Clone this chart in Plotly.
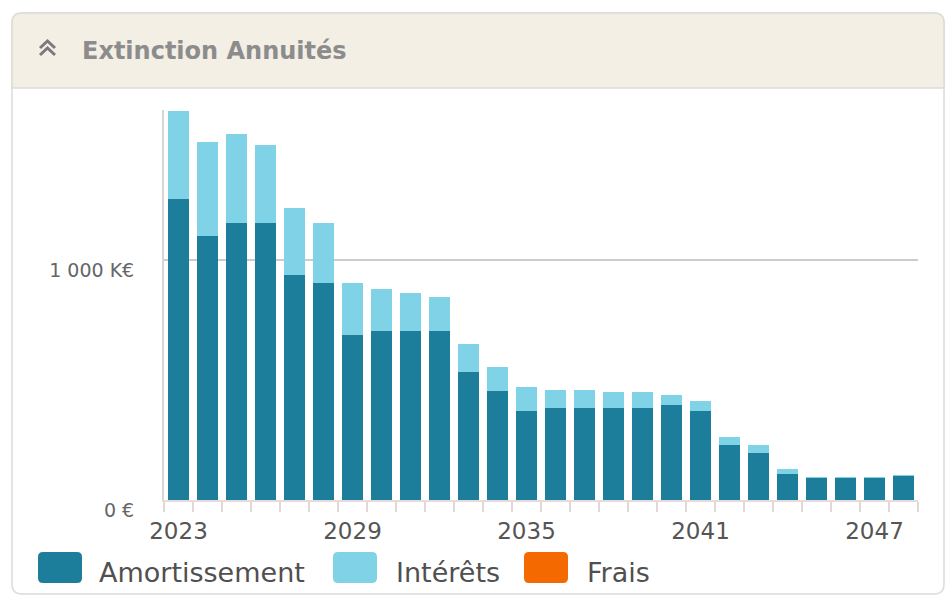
import plotly.graph_objects as go

years = list(range(2023, 2049))
amortissement = [1254, 1100, 1154, 1154, 937, 904, 687, 704, 704, 704, 533, 454, 371,
                 383, 383, 383, 383, 396, 371, 229, 196, 108, 92, 92, 92, 100]
interets = [367, 392, 371, 325, 280, 250, 217, 175, 158, 142, 117, 100, 100,
            75, 75, 67, 67, 41, 41, 33, 33, 21, 3, 3, 3, 4]
frais = [0] * 26
series_names = ["Amortissement", "Intérêts", "Frais"]
series_colors = ["#1d7e9c", "#80d3e7", "#f46a00"]
x_tick_years = [2023, 2029, 2035, 2041, 2047]
y_tick_vals = [0, 1000]
y_tick_text = ["0 €", "1 000 K€"]
title_text = "Extinction Annuités"

W, H = 952, 595
L, R, T, B = 164, 34, 110, 95
PW, PH = W - L - R, H - T - B


def px(x):
    return (x - L) / PW


def py(y):
    return (H - B - y) / PH


def rrect(x0, y0, x1, y1, r):
    rx, ry = r / PW, r / PH
    a, b, c, d = px(x0), py(y0), px(x1), py(y1)
    return (f"M{a+rx},{b} L{c-rx},{b} Q{c},{b} {c},{b-ry} L{c},{d+ry} Q{c},{d} {c-rx},{d} "
            f"L{a+rx},{d} Q{a},{d} {a},{d+ry} L{a},{b-ry} Q{a},{b} {a+rx},{b} Z")


fig = go.Figure()
for name, vals, col in zip(series_names, [amortissement, interets, frais], series_colors):
    fig.add_trace(go.Bar(x=years, y=vals, name=name, marker_color=col,
                         marker_line_width=0, width=0.7))

shapes = []
# card
shapes.append(dict(type="path", xref="paper", yref="paper", path=rrect(12, 13, 944, 594, 10),
                   fillcolor="white", line=dict(color="#dcdcd8", width=1.5), layer="below"))
# header band
shapes.append(dict(type="path", xref="paper", yref="paper",
                   path=(f"M{px(12)},{py(88)} L{px(12)},{py(23)} Q{px(12)},{py(13)} {px(22)},{py(13)} "
                         f"L{px(934)},{py(13)} Q{px(944)},{py(13)} {px(944)},{py(23)} L{px(944)},{py(88)} Z"),
                   fillcolor="#f3efe5", line=dict(color="#dcdcd8", width=1.5), layer="below"))
# chevrons
for yy in (41, 48):
    shapes.append(dict(type="path", xref="paper", yref="paper",
                       path=f"M{px(40)},{py(yy+7)} L{px(47.5)},{py(yy)} L{px(55)},{py(yy+7)}",
                       line=dict(color="#7a7a7a", width=3)))
# legend swatches
sw_x = [38, 333, 524]
txt_x = [97, 394, 585]
for sx, col in zip(sw_x, series_colors):
    shapes.append(dict(type="path", xref="paper", yref="paper", path=rrect(sx, 552, sx + 44, 583, 5),
                       fillcolor=col, line=dict(width=0)))

annotations = [dict(x=px(80), y=py(51), xref="paper", yref="paper", text=title_text,
                    showarrow=False, xanchor="left", yanchor="middle",
                    font=dict(family="DejaVu Sans", size=24, color="#8c8c8c", weight="bold"))]
for tx, name in zip(txt_x, series_names):
    annotations.append(dict(x=px(tx), y=py(572), xref="paper", yref="paper", text=name,
                            showarrow=False, xanchor="left", yanchor="middle",
                            font=dict(family="DejaVu Sans", size=27, color="#505050")))

fig.update_layout(
    width=W, height=H, barmode="stack", bargap=0.3,
    margin=dict(l=L, r=R, t=T, b=B),
    paper_bgcolor="white", plot_bgcolor="rgba(0,0,0,0)",
    showlegend=False, shapes=shapes, annotations=annotations,
    font=dict(family="DejaVu Sans"),
)
fig.update_xaxes(range=[2022.5, 2048.5], tickmode="array", tickvals=x_tick_years,
                 ticks="", showgrid=False, zeroline=False,
                 showline=True, linecolor="#e6dada", linewidth=1.5,
                 tickfont=dict(size=23, color="#555555"), ticklabelstandoff=10,
                 minor=dict(tickmode="linear", tick0=2022.5, dtick=1, ticks="outside",
                            ticklen=10, tickcolor="#e6d6d6", tickwidth=1.5, showgrid=False))
fig.update_yaxes(range=[0, 1625], tickmode="array", tickvals=y_tick_vals, ticktext=y_tick_text,
                 showgrid=True, gridcolor="#cccccc", gridwidth=2, zeroline=False,
                 showline=True, linecolor="#d6d6d6", linewidth=2,
                 ticks="", ticklabelstandoff=24, ticklabelshift=10,
                 tickfont=dict(size=19, color="#666666"))

fig.write_html("out.html")
